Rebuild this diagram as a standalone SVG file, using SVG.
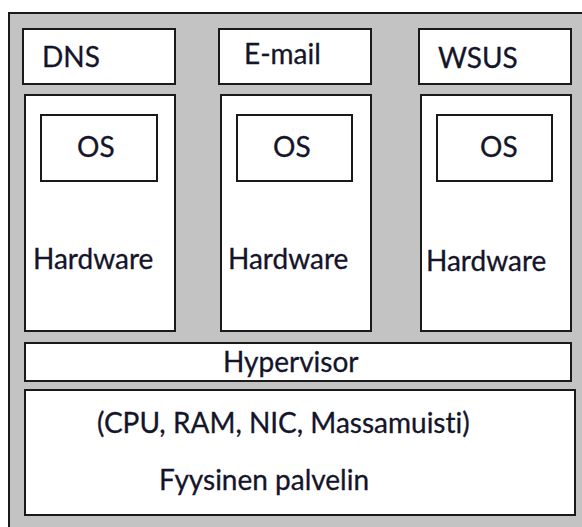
<svg xmlns="http://www.w3.org/2000/svg" width="582" height="527" viewBox="0 0 582 527">
<style>
.box{fill:#ffffff;stroke:#1a1a1a;stroke-width:2}
.t{font-family:Lato,"Open Sans","Liberation Sans",sans-serif;font-size:28px;fill:#14142a;font-variant-ligatures:none;stroke:#14142a;stroke-width:0.3}
</style>
<rect width="582" height="527" fill="#ffffff"/>
<g id="host">
<rect x="9" y="13" width="600" height="540" fill="#c3c3c3" stroke="#1a1a1a" stroke-width="2"/>
</g>
<g id="dns">
<rect class="box" x="23" y="29" width="152" height="55"/>
<text class="t" x="42" y="67">DNS</text>
</g>
<g id="email">
<rect class="box" x="219" y="29" width="152" height="55"/>
<text class="t" x="244" y="64">E-mail</text>
</g>
<g id="wsus">
<rect class="box" x="419" y="29" width="152" height="55"/>
<text class="t" x="438" y="68">WSUS</text>
</g>
<g id="hw1">
<rect class="box" x="25" y="95" width="150" height="236"/>
<text class="t" x="33" y="269">Hardware</text>
</g>
<g id="os1">
<rect class="box" x="41" y="115" width="116" height="66"/>
<text class="t" x="77" y="157">OS</text>
</g>
<g id="hw2">
<rect class="box" x="221" y="95" width="150" height="236"/>
<text class="t" x="228" y="269">Hardware</text>
</g>
<g id="os2">
<rect class="box" x="237" y="115" width="115" height="66"/>
<text class="t" x="273" y="157">OS</text>
</g>
<g id="hw3">
<rect class="box" x="421" y="95" width="150" height="236"/>
<text class="t" x="426" y="271">Hardware</text>
</g>
<g id="os3">
<rect class="box" x="437" y="115" width="115" height="66"/>
<text class="t" x="480" y="157">OS</text>
</g>
<g id="hypervisor">
<rect class="box" x="25" y="343" width="546" height="38"/>
<text class="t" x="223" y="372">Hypervisor</text>
</g>
<g id="physical">
<rect class="box" x="25" y="390" width="550" height="125"/>
<text class="t" x="97" y="433">(CPU, RAM, NIC, Massamuisti)</text>
<text class="t" x="159" y="490">Fyysinen palvelin</text>
</g>
<g id="connectors"/>
</svg>
